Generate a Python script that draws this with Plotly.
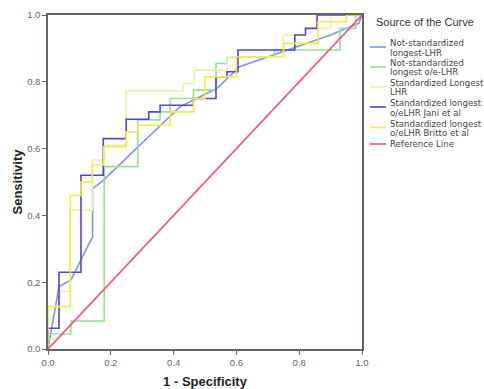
import plotly.graph_objects as go

# ---- data ----
blue_x = [0, 0.035, 0.073, 0.107, 0.142, 0.142, 0.176, 0.27, 0.42, 0.537, 0.61, 0.9, 0.99, 1.0]
blue_y = [0, 0.187, 0.207, 0.27, 0.336, 0.48, 0.505, 0.59, 0.725, 0.78, 0.845, 0.94, 0.975, 1.0]

green_x = [0, 0, 0.073, 0.179, 0.286, 0.357, 0.389, 0.463, 0.535, 0.57, 0.72, 0.93, 0.98, 1.0]
green_y = [0, 0.045, 0.084, 0.546, 0.686, 0.71, 0.75, 0.775, 0.855, 0.875, 0.895, 0.96, 1.0, 1.0]

pale_x = [0, 0, 0.035, 0.071, 0.142, 0.179, 0.249, 0.431, 0.465, 0.57, 0.75, 0.82, 0.9, 1.0]
pale_y = [0, 0.03, 0.172, 0.416, 0.566, 0.61, 0.773, 0.795, 0.835, 0.875, 0.94, 0.96, 1.0, 1.0]

jani_x = [0, 0, 0.035, 0.105, 0.176, 0.249, 0.321, 0.357, 0.463, 0.535, 0.57, 0.605, 0.786, 0.82, 0.857, 1.0]
jani_y = [0, 0.062, 0.23, 0.52, 0.63, 0.688, 0.71, 0.73, 0.75, 0.815, 0.83, 0.895, 0.94, 0.96, 1.0, 1.0]

britto_x = [0, 0, 0.071, 0.105, 0.141, 0.177, 0.249, 0.286, 0.389, 0.463, 0.5, 0.6, 0.75, 0.86, 0.95, 1.0]
britto_y = [0, 0.127, 0.46, 0.5, 0.551, 0.606, 0.65, 0.67, 0.71, 0.75, 0.815, 0.875, 0.915, 0.98, 1.0, 1.0]

ref_x = [0, 1]
ref_y = [0, 1]

tick_vals = [0.0, 0.2, 0.4, 0.6, 0.8, 1.0]
tick_text = ["0.0", "0.2", "0.4", "0.6", "0.8", "1.0"]

legend_title = "Source of the Curve"
series_names = [
    ["Not-standardized", "longest-LHR"],
    ["Not-standardized", "longest o/e-LHR"],
    ["Standardized Longest", "LHR"],
    ["Standardized longest", "o/eLHR Jani et al"],
    ["Standardized longest", "o/eLHR Britto et al"],
    ["Reference Line"],
]
colors = ["#7a98e6", "#93e493", "#eef0a6", "#5b3fe0", "#f3ee3e", "#f2508c"]

# ---- figure ----
fig = go.Figure()
series = [
    (blue_x, blue_y, "linear"),
    (green_x, green_y, "hv"),
    (pale_x, pale_y, "hv"),
    (jani_x, jani_y, "hv"),
    (britto_x, britto_y, "hv"),
    (ref_x, ref_y, "linear"),
]
for (xs, ys, shape), c, nm in zip(series, colors, series_names):
    fig.add_trace(go.Scatter(x=xs, y=ys, mode="lines", line=dict(color=c, width=1.6, shape=shape),
                             name=" ".join(nm), showlegend=False))

W, H = 484, 389
L, R, T, B = 48, 122, 15, 40
pw, ph = W - L - R, H - T - B

def px2x(px):
    return (px - L) / pw

def py2y(py):
    return (H - B - py) / ph

anns = []
shapes = []
anns.append(dict(text=legend_title, x=px2x(425), y=py2y(22), xref="paper", yref="paper",
                 showarrow=False, xanchor="center", yanchor="middle", borderpad=0,
                 font=dict(family="Liberation Sans, Arial", size=11, color="#333")))
line_py = [47, 67, 87, 107, 127.5, 144]
text_py = [[43, 52.5], [62.5, 71.5], [83, 92.5], [103, 112.5], [123.5, 133], [144]]
for i, nm in enumerate(series_names):
    shapes.append(dict(type="line", xref="paper", yref="paper",
                       x0=px2x(370), x1=px2x(386), y0=py2y(line_py[i]), y1=py2y(line_py[i]),
                       line=dict(color=colors[i], width=1.6)))
    for t, tp in zip(nm, text_py[i]):
        anns.append(dict(text=t, x=px2x(389), y=py2y(tp), xref="paper", yref="paper",
                         showarrow=False, xanchor="left", yanchor="middle", borderpad=0,
                         font=dict(family="DejaVu Sans", size=8.6, color="#444")))

axis_common = dict(range=[0, 1], tickvals=tick_vals, ticktext=tick_text, ticks="outside",
                   ticklen=4, tickcolor="#5c6c60", showline=True, linecolor="#5c6c60",
                   linewidth=1.5, mirror=True, showgrid=False, zeroline=False,
                   tickfont=dict(family="Liberation Sans, Arial", size=9.5, color="#666"))

fig.update_layout(
    width=W, height=H,
    margin=dict(l=L, r=R, t=T, b=B, autoexpand=False),
    paper_bgcolor="white", plot_bgcolor="white",
    xaxis=dict(**axis_common, automargin=False,
               title=dict(text="<b>1 - Specificity</b>", standoff=12,
                          font=dict(family="Liberation Sans, Arial", size=13, color="#222"))),
    yaxis=dict(**axis_common, automargin=False,
               title=dict(text="<b>Sensitivity</b>", standoff=2,
                          font=dict(family="Liberation Sans, Arial", size=13, color="#222"))),
    annotations=anns, shapes=shapes,
)

fig.write_html("out.html", config={"displayModeBar": False},
               post_script="document.body.style.margin='0';document.body.style.overflow='hidden';")
